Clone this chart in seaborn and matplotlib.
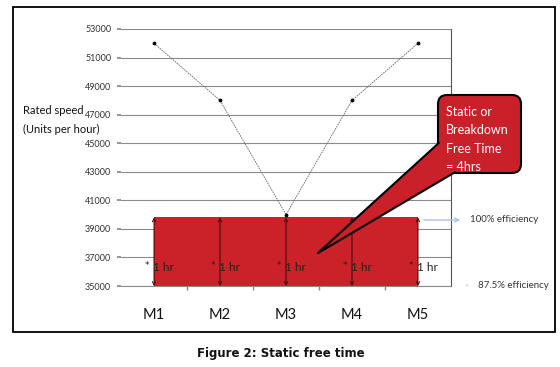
import matplotlib
matplotlib.use("Agg")
import matplotlib.pyplot as plt
import seaborn as sns
import pandas as pd
from matplotlib.patches import FancyBboxPatch, Polygon, Rectangle
from matplotlib.lines import Line2D
from matplotlib.transforms import IdentityTransform

# ---- data ----
machines = ["M1", "M2", "M3", "M4", "M5"]
rated_speed = [52000, 48000, 40000, 48000, 52000]
full_efficiency_level = 39800
base_level = 35000
hour_labels = ["1 hr", "1 hr", "1 hr", "1 hr", "1 hr"]
y_ticks = [35000, 37000, 39000, 41000, 43000, 45000, 47000, 49000, 51000, 53000]
callout_lines = ["Static or", "Breakdown", "Free Time", "= 4hrs"]

sns.set_theme(style="white")
plt.rcParams["font.family"] = ["Lato", "DejaVu Sans"]

W, H = 560, 367
fig = plt.figure(figsize=(W / 100, H / 100), dpi=100)
ax = fig.add_axes([121 / W, 1 - 286 / H, 330 / W, 257 / H])

def px(x, y):
    return (x, H - y)

def ftext(x, y, s, **kw):
    fig.text(x / W, 1 - y / H, s, **kw)

df = pd.DataFrame({"machine": machines, "speed": rated_speed})

# red static-free-time region
xs = list(range(len(machines)))
ax.fill_between(xs, base_level, full_efficiency_level, color="#CB2129", zorder=2, lw=0)

# line of rated speed
sns.lineplot(data=df, x="machine", y="speed", ax=ax, sort=False, color="#666666",
             lw=0.6, linestyle=(0, (2, 1)), marker="o", markersize=2,
             markerfacecolor="black", markeredgecolor="black", zorder=4)

# double arrows + labels
for i, lab in enumerate(hour_labels):
    ax.annotate("", xy=(i, base_level), xytext=(i, full_efficiency_level),
                arrowprops=dict(arrowstyle="<->", color="#3a0808", lw=0.7,
                                shrinkA=0, shrinkB=0, mutation_scale=6), zorder=5)
    ax.text(i - 0.1, 36450, "*", fontsize=6.5, family="DejaVu Sans", color="#222222",
            ha="center", va="center", zorder=6)
    ax.text(i - 0.01, 36300, lab, fontsize=8.5, color="#222222", ha="left", va="center", zorder=6)

ax.set_xlim(-0.5, 4.5)
ax.set_ylim(35000, 53000)
ax.set_yticks(y_ticks)
ax.set_yticklabels([str(v) for v in y_ticks], fontsize=6.5, color="#333333")
ax.set_xticks(xs)
ax.set_xticklabels(machines, fontsize=10.5, color="#111111")
ax.set_xticks([0.5, 1.5, 2.5, 3.5], minor=True)
ax.tick_params(axis="x", which="major", length=0, pad=16)
ax.tick_params(axis="x", which="minor", length=3, color="#888888", direction="out", bottom=True)
ax.tick_params(axis="y", length=3, color="#888888", left=True, pad=4)
ax.grid(axis="y", color="#8a8a8a", lw=0.8, zorder=1)
ax.set_axisbelow(True)
ax.set_xlabel("")
ax.set_ylabel("")
for s in ["left", "top"]:
    ax.spines[s].set_visible(False)
ax.spines["right"].set_color("#555555")
ax.spines["right"].set_linewidth(0.8)
ax.spines["bottom"].set_color("#8a8a8a")
ax.spines["bottom"].set_linewidth(0.8)
ax.patch.set_alpha(0)

# y label
ftext(23, 111, "Rated speed", fontsize=8, color="#111111", ha="left", va="center")
ftext(23, 129, "(Units per hour)", fontsize=8, color="#111111", ha="left", va="center")

# callout
tr = IdentityTransform()
box = FancyBboxPatch(px(438, 173), 83, 78, boxstyle="round,pad=0,rounding_size=9",
                     fc="#C9202A", ec="black", lw=1.5, transform=tr, zorder=10)
fig.add_artist(box)
tri = [px(438.8, 143), px(318, 253), px(455, 172.2)]
fig.add_artist(Polygon(tri, closed=True, fc="#C9202A", ec="none", transform=tr, zorder=11))
fig.add_artist(Line2D([tri[0][0], tri[1][0], tri[2][0]], [tri[0][1], tri[1][1], tri[2][1]],
                      color="black", lw=1.5, transform=tr, zorder=12))
for k, line in enumerate(callout_lines):
    fig.text(446 / W, 1 - (112 + 18.3 * k) / H, line, fontsize=9, color="white",
             ha="left", va="center", zorder=13)

# efficiency annotations
fig.add_artist(matplotlib.patches.FancyArrowPatch(px(421, 220), px(463, 220), arrowstyle="->",
               mutation_scale=7, color="#a9c4de", lw=1, transform=tr, zorder=9))
ftext(470, 220, "100% efficiency", fontsize=7, color="#333333", ha="left", va="center")
ftext(464, 285, ">", fontsize=5, color="#a9c4de", ha="left", va="center")
ftext(478, 285, "87.5% efficiency", fontsize=7, color="#333333", ha="left", va="center")

# outer frame
fig.add_artist(Rectangle((13 / W, 1 - 332 / H), 542 / W, 325 / H, transform=fig.transFigure,
                         fill=False, ec="black", lw=1.3))

# caption
ftext(281, 353, "Figure 2: Static free time", fontsize=8.5, fontweight="bold",
      family="DejaVu Sans", color="#111111", ha="center", va="center")

fig.savefig("out.png", dpi=100)
